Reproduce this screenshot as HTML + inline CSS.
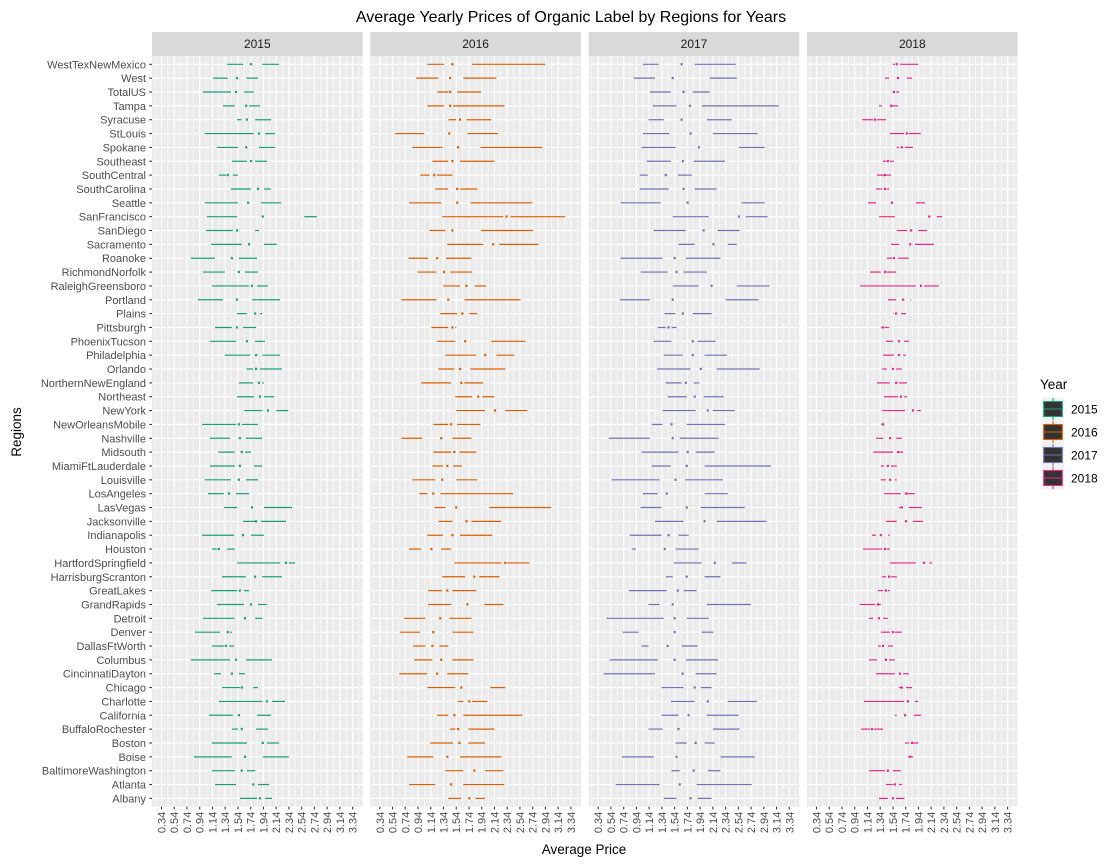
<!DOCTYPE html>
<html><head><meta charset="utf-8"><style>
body{margin:0;background:#fff;}
svg{display:block;font-family:"Liberation Sans",Arial,sans-serif;}
</style></head><body>
<svg id="chart" width="1114" height="864" xmlns="http://www.w3.org/2000/svg">
<rect width="1114" height="864" fill="#fff"/>
<text x="571" y="22" text-anchor="middle" font-size="16" fill="#000">Average Yearly Prices of Organic Label by Regions for Years</text>
<text x="584" y="854" text-anchor="middle" font-size="13.5" fill="#000">Average Price</text>
<text transform="translate(21,432) rotate(-90)" text-anchor="middle" font-size="13.5" fill="#000">Regions</text>
<g id="legend"></g>
</svg>
<script>
const regions=["WestTexNewMexico","West","TotalUS","Tampa","Syracuse","StLouis","Spokane","Southeast","SouthCentral","SouthCarolina","Seattle","SanFrancisco","SanDiego","Sacramento","Roanoke","RichmondNorfolk","RaleighGreensboro","Portland","Plains","Pittsburgh","PhoenixTucson","Philadelphia","Orlando","NorthernNewEngland","Northeast","NewYork","NewOrleansMobile","Nashville","Midsouth","MiamiFtLauderdale","Louisville","LosAngeles","LasVegas","Jacksonville","Indianapolis","Houston","HartfordSpringfield","HarrisburgScranton","GreatLakes","GrandRapids","Detroit","Denver","DallasFtWorth","Columbus","CincinnatiDayton","Chicago","Charlotte","California","BuffaloRochester","Boston","Boise","BaltimoreWashington","Atlanta","Albany"];
const years=["2015","2016","2017","2018"];
const colors=["#1b9e77","#d95f02","#7570b3","#e7298a"];
const xTicks=[0.34,0.54,0.74,0.94,1.14,1.34,1.54,1.74,1.94,2.14,2.34,2.54,2.74,2.94,3.14,3.34];
// each row: [whisker low, Q1, median, Q3, whisker high]
const stats2015=[[1.37,1.62,1.745,1.92,2.185],[1.15,1.38,1.525,1.67,1.855],[0.99,1.43,1.51,1.635,1.79],[1.305,1.49,1.67,1.715,1.885],[1.525,1.60,1.68,1.81,2.06],[1.02,1.79,1.87,1.965,2.12],[1.21,1.54,1.67,1.87,2.12],[1.445,1.68,1.745,1.81,1.995],[1.24,1.35,1.38,1.46,1.54],[1.43,1.745,1.855,1.95,2.06],[1.02,1.54,1.70,1.90,2.22],[1.05,1.525,1.93,2.58,2.78],[1.04,1.46,1.525,1.81,1.87],[1.12,1.60,1.715,1.95,2.15],[0.80,1.18,1.445,1.555,1.84],[0.99,1.335,1.555,1.65,1.855],[1.13,1.715,1.76,1.84,2.01],[0.91,1.305,1.525,1.76,2.20],[1.525,1.68,1.81,1.885,1.92],[1.18,1.445,1.525,1.62,1.825],[1.10,1.51,1.68,1.81,1.965],[1.335,1.73,1.825,1.92,2.20],[1.67,1.78,1.825,1.885,2.23],[1.555,1.78,1.87,1.92,1.95],[1.525,1.79,1.885,1.95,2.11],[1.635,1.92,2.01,2.14,2.33],[0.975,1.51,1.555,1.60,1.855],[1.10,1.415,1.57,1.665,1.92],[1.23,1.49,1.60,1.65,1.745],[1.10,1.49,1.57,1.79,1.92],[1.02,1.43,1.555,1.665,1.855],[1.07,1.32,1.40,1.51,1.715],[1.32,1.525,1.76,1.95,2.39],[1.62,1.81,1.825,1.90,2.295],[0.975,1.48,1.62,1.745,1.95],[1.13,1.21,1.24,1.37,1.49],[1.525,2.20,2.295,2.34,2.435],[1.29,1.665,1.81,1.92,2.23],[1.12,1.525,1.57,1.635,1.715],[1.21,1.635,1.745,1.855,1.995],[0.99,1.49,1.65,1.81,1.92],[0.865,1.26,1.38,1.415,1.445],[1.13,1.32,1.35,1.40,1.48],[0.80,1.415,1.51,1.665,2.075],[1.165,1.275,1.445,1.555,1.65],[1.29,1.57,1.60,1.78,1.855],[1.24,1.92,1.995,2.075,2.28],[1.085,1.46,1.555,1.84,2.06],[1.445,1.54,1.60,1.825,2.01],[1.13,1.68,1.93,1.995,2.185],[0.85,1.445,1.65,1.93,2.34],[1.13,1.49,1.60,1.68,1.81],[1.18,1.51,1.78,1.855,2.03],[1.57,1.84,1.885,1.965,2.075]];
const stats2016=[[1.085,1.35,1.48,1.79,2.94],[0.91,1.26,1.445,1.65,2.17],[1.24,1.415,1.445,1.555,1.93],[1.085,1.35,1.445,1.49,2.295],[1.415,1.54,1.60,1.70,2.09],[0.58,1.04,1.43,1.715,2.20],[0.85,1.32,1.57,1.92,2.89],[1.165,1.415,1.48,1.60,2.14],[0.975,1.12,1.195,1.24,1.48],[1.21,1.415,1.555,1.60,1.87],[0.80,1.305,1.555,1.76,2.735],[1.32,2.28,2.33,2.39,3.25],[1.12,1.37,1.48,1.93,2.75],[1.40,1.965,2.12,2.215,2.83],[0.79,1.10,1.24,1.38,1.78],[0.93,1.23,1.35,1.445,1.79],[1.335,1.60,1.70,1.825,2.01],[0.68,1.23,1.415,1.67,2.55],[1.29,1.555,1.635,1.745,1.87],[1.15,1.415,1.48,1.525,1.54],[1.24,1.525,1.68,2.09,2.625],[1.37,1.855,1.995,2.17,2.45],[1.26,1.51,1.60,1.76,2.31],[0.99,1.46,1.62,1.665,1.965],[1.525,1.79,1.885,1.95,2.14],[1.54,1.995,2.15,2.31,2.655],[1.18,1.415,1.46,1.555,1.92],[0.68,1.005,1.305,1.48,1.78],[1.18,1.46,1.51,1.59,1.855],[1.165,1.335,1.40,1.49,1.635],[0.85,1.21,1.32,1.54,1.87],[0.96,1.085,1.18,1.29,2.435],[1.195,1.37,1.54,2.06,3.03],[1.26,1.48,1.70,1.78,2.25],[1.085,1.335,1.48,1.60,2.105],[0.80,0.99,1.15,1.305,1.46],[1.51,2.25,2.31,2.34,2.69],[1.32,1.68,1.825,1.90,2.22],[1.10,1.32,1.40,1.48,1.855],[1.10,1.46,1.715,1.98,2.28],[0.72,1.055,1.29,1.43,1.78],[0.66,0.975,1.18,1.48,1.81],[0.865,1.055,1.165,1.275,1.415],[0.88,1.165,1.305,1.48,1.81],[0.645,1.085,1.24,1.40,1.73],[1.085,1.525,1.62,2.075,2.31],[1.57,1.65,1.745,1.79,2.03],[1.24,1.415,1.51,1.65,2.58],[1.445,1.525,1.57,1.73,2.14],[1.13,1.49,1.59,1.73,1.995],[0.77,1.18,1.40,1.60,2.25],[1.37,1.65,1.825,1.995,2.28],[0.80,1.21,1.46,1.65,2.295],[1.415,1.62,1.745,1.84,1.995]];
const stats2017=[[1.04,1.29,1.65,1.855,2.50],[0.90,1.23,1.51,2.09,2.515],[1.15,1.48,1.68,1.825,2.09],[1.195,1.57,1.78,1.965,3.175],[1.13,1.37,1.65,2.045,2.435],[1.04,1.46,1.79,2.14,2.845],[1.02,1.555,1.92,2.55,2.955],[1.10,1.48,1.67,1.84,2.33],[0.99,1.12,1.40,1.59,1.81],[0.99,1.445,1.68,1.855,2.20],[0.69,1.32,1.745,2.59,2.955],[1.51,2.075,2.55,2.655,3.00],[1.21,1.715,1.995,2.215,2.56],[1.60,1.855,2.15,2.375,2.515],[0.69,1.35,1.54,1.715,2.26],[1.005,1.43,1.57,1.68,2.045],[1.51,1.92,2.12,2.515,3.03],[0.68,1.15,1.51,2.34,2.86],[1.38,1.555,1.67,1.825,2.12],[1.275,1.40,1.445,1.49,1.57],[1.21,1.49,1.825,1.90,2.185],[1.37,1.665,1.825,2.01,2.36],[1.26,1.79,1.95,2.20,2.875],[1.40,1.65,1.715,1.84,1.93],[1.43,1.73,1.855,1.995,2.31],[1.35,1.87,2.06,2.14,2.485],[1.18,1.35,1.49,1.73,2.33],[0.505,1.15,1.51,1.62,2.23],[1.02,1.60,1.745,1.87,2.17],[1.18,1.48,1.73,2.01,3.05],[0.55,1.305,1.555,1.70,2.295],[1.04,1.275,1.415,2.01,2.375],[1.005,1.335,1.73,1.95,2.64],[1.23,1.68,2.01,2.20,2.985],[0.835,1.335,1.445,1.60,1.76],[0.865,0.93,1.385,1.555,1.92],[1.525,1.965,2.17,2.435,2.67],[1.40,1.51,1.73,2.01,2.26],[0.82,1.415,1.59,1.68,1.885],[1.13,1.305,1.51,2.045,2.735],[0.47,1.37,1.54,1.73,2.075],[0.72,0.975,1.54,1.965,2.15],[1.02,1.13,1.43,1.65,1.90],[0.52,1.275,1.54,1.715,2.22],[0.425,1.23,1.665,1.87,2.20],[1.335,1.68,1.855,1.95,2.12],[1.48,1.855,2.06,2.375,2.83],[1.335,1.60,1.76,2.045,2.545],[1.13,1.35,1.60,2.14,2.56],[1.555,1.73,1.87,2.01,2.17],[0.71,1.21,1.57,2.26,2.80],[1.49,1.62,1.84,2.06,2.26],[0.615,1.305,1.62,1.885,2.75],[1.37,1.57,1.79,1.90,2.12]];
const stats2018=[[1.54,1.57,1.60,1.65,1.935],[1.415,1.48,1.62,1.76,1.84],[1.54,1.545,1.555,1.59,1.635],[1.32,1.37,1.51,1.525,1.62],[1.055,1.23,1.26,1.29,1.43],[1.49,1.715,1.76,1.79,1.98],[1.60,1.635,1.68,1.73,1.855],[1.38,1.43,1.46,1.49,1.555],[1.29,1.395,1.415,1.435,1.51],[1.275,1.37,1.415,1.445,1.48],[1.15,1.275,1.525,1.90,2.045],[1.32,1.57,2.11,2.23,2.31],[1.60,1.76,1.825,1.935,2.075],[1.51,1.635,1.81,1.885,2.185],[1.445,1.525,1.555,1.62,1.79],[1.18,1.35,1.415,1.445,1.59],[1.02,1.90,1.98,2.03,2.26],[1.46,1.59,1.70,1.81,1.82],[1.54,1.55,1.59,1.665,1.745],[1.35,1.36,1.385,1.415,1.48],[1.43,1.54,1.635,1.715,1.79],[1.385,1.555,1.635,1.70,1.745],[1.37,1.445,1.54,1.59,1.68],[1.29,1.49,1.59,1.635,1.76],[1.40,1.62,1.665,1.715,1.76],[1.37,1.73,1.855,1.92,1.98],[1.35,1.36,1.385,1.395,1.405],[1.275,1.385,1.495,1.59,1.68],[1.23,1.54,1.62,1.635,1.70],[1.35,1.40,1.46,1.51,1.60],[1.35,1.43,1.495,1.57,1.60],[1.40,1.665,1.745,1.76,1.885],[1.635,1.665,1.68,1.79,1.995],[1.43,1.60,1.745,1.855,2.01],[1.21,1.275,1.35,1.46,1.49],[1.07,1.37,1.415,1.445,1.49],[1.49,1.90,2.03,2.11,2.155],[1.37,1.43,1.48,1.51,1.60],[1.305,1.385,1.43,1.46,1.49],[1.02,1.26,1.305,1.32,1.35],[1.165,1.23,1.32,1.385,1.46],[1.35,1.49,1.54,1.57,1.68],[1.305,1.35,1.385,1.46,1.54],[1.165,1.29,1.43,1.48,1.57],[1.275,1.57,1.65,1.70,1.79],[1.635,1.665,1.68,1.745,1.84],[1.085,1.715,1.775,1.885,1.935],[1.57,1.60,1.73,1.87,1.98],[1.04,1.18,1.21,1.24,1.385],[1.73,1.79,1.84,1.855,1.935],[1.775,1.79,1.81,1.825,1.855],[1.165,1.415,1.46,1.54,1.665],[1.43,1.54,1.57,1.635,1.68],[1.32,1.46,1.54,1.59,1.72]];
const allStats=[stats2015,stats2016,stats2017,stats2018];

const NS="http://www.w3.org/2000/svg";
const svg=document.getElementById('chart');
function mk(tag,attrs,parent){const e=document.createElementNS(NS,tag);for(const k in attrs)e.setAttribute(k,attrs[k]);(parent||svg).appendChild(e);return e;}
const panelTop=56,panelBot=806.7,panelW=210.6;
const panelLeft=[152,370.3,588.7,807];
const rowStep=(panelBot-panelTop)/(regions.length-1+1.2);
function yPos(i){return panelTop+0.6*rowStep+i*rowStep;}
function xPos(p,v){return panelLeft[p]+9.5+(v-0.34)*63.7;}

years.forEach((yr,p)=>{
  const g=mk('g',{});
  
  
  const L=panelLeft[p];
  const strip=mk('rect',{x:L,y:32,width:panelW,height:24,fill:'#d9d9d9'},g);
  
  
  const st=mk('text',{x:L+panelW/2,y:48,'text-anchor':'middle','font-size':12,fill:'#1a1a1a'},g);
  st.textContent=yr;
  
  
  const bg=mk('rect',{x:L,y:panelTop,width:panelW,height:panelBot-panelTop,fill:'#ebebeb'},g);
  
  
  // minor vertical grid
  for(let k=-1;k<xTicks.length;k++){
    const v=(k<0?xTicks[0]-0.1:xTicks[k]+0.1);
    const x=xPos(p,v);
    if(x>L&&x<L+panelW) mk('line',{x1:x,x2:x,y1:panelTop,y2:panelBot,stroke:'#fff','stroke-width':0.55},g);
  }
  xTicks.forEach(t=>{
    const x=xPos(p,t);
    mk('line',{x1:x,x2:x,y1:panelTop,y2:panelBot,stroke:'#fff','stroke-width':1.1},g);
    mk('line',{x1:x,x2:x,y1:panelBot,y2:panelBot+2.7,stroke:'#333','stroke-width':1.1},g);
    const tl=mk('text',{transform:`translate(${x+4},${panelBot+5}) rotate(-90)`,'text-anchor':'end','font-size':11,fill:'#4d4d4d'},g);
    tl.textContent=t.toFixed(2);
    
    
  });
  regions.forEach((r,i)=>{
    const y=yPos(i);
    mk('line',{x1:L,x2:L+panelW,y1:y,y2:y,stroke:'#fff','stroke-width':1.1},g);
  });
  const data=allStats[p];
  data.forEach((s,i)=>{
    const y=yPos(i);
    const bx=mk('g',{},g);
    
    
    mk('line',{x1:xPos(p,s[0]),x2:xPos(p,s[1]),y1:y,y2:y,stroke:colors[p],'stroke-width':1.2},bx);
    mk('line',{x1:xPos(p,s[3]),x2:xPos(p,s[4]),y1:y,y2:y,stroke:colors[p],'stroke-width':1.2},bx);
    mk('rect',{x:xPos(p,s[2])-1.1,y:y-1.2,width:2.2,height:2.2,fill:colors[p]},bx);
  });
});
// y-axis labels
regions.forEach((r,i)=>{
  const y=yPos(i);
  mk('line',{x1:149.3,x2:152,y1:y,y2:y,stroke:'#333','stroke-width':1.1});
  const t=mk('text',{x:146,y:y+4,'text-anchor':'end','font-size':11,fill:'#4d4d4d'});
  t.textContent=r;
  
  
});
// legend
const lg=document.getElementById('legend');
const lt=mk('text',{x:1040,y:389,'font-size':13.5,fill:'#000'},lg);
lt.textContent='Year';


years.forEach((yr,k)=>{
  const cy=409+k*23;
  const e=mk('g',{},lg);
  
  
  mk('rect',{x:1042,y:cy-11.5,width:22,height:23,fill:'#f2f2f2'},e);
  mk('line',{x1:1053,x2:1053,y1:cy-11,y2:cy+11,stroke:colors[k],'stroke-width':1.1},e);
  mk('rect',{x:1043.7,y:cy-7.5,width:18.6,height:15,fill:'#333',stroke:colors[k],'stroke-width':1.1},e);
  mk('line',{x1:1043.7,x2:1062.3,y1:cy,y2:cy,stroke:colors[k],'stroke-width':1.1},e);
  const t=mk('text',{x:1071,y:cy+4.5,'font-size':12,fill:'#000'},e);
  t.textContent=yr;
});
</script>
</body></html>
